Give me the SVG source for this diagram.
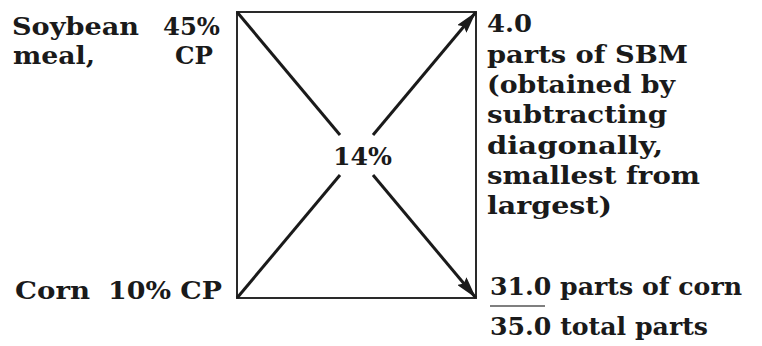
<svg xmlns="http://www.w3.org/2000/svg" width="762" height="346" viewBox="0 0 762 346">
<style>
text{font-family:"DejaVu Serif","Liberation Serif",serif;font-size:25px;font-weight:bold;fill:#1a1a1a}
.ln{stroke:#1a1a1a;stroke-width:3;fill:none}
.box{stroke:#2a2a2a;stroke-width:2;fill:none}
</style>
<defs>
<marker id="ah" viewBox="0 0 22 12" refX="22" refY="6" markerWidth="22" markerHeight="12" markerUnits="userSpaceOnUse" orient="auto">
<path d="M0,0 L22,6 L0,12 L3,6 Z" fill="#1a1a1a"/>
</marker>
</defs>
<rect width="762" height="346" fill="#fff"/>
<g id="square"><rect class="box" x="237" y="12" width="239" height="286"/></g>
<g id="connectors">
<line class="ln" x1="237" y1="12" x2="340" y2="135"/>
<line class="ln" x1="373" y1="175" x2="476" y2="298" marker-end="url(#ah)"/>
<line class="ln" x1="237" y1="298" x2="340" y2="175"/>
<line class="ln" x1="373" y1="135" x2="476" y2="12" marker-end="url(#ah)"/>
</g>
<g id="soybean">
<text x="12" y="35" textLength="127" lengthAdjust="spacingAndGlyphs">Soybean</text>
<text x="163" y="35" textLength="57" lengthAdjust="spacingAndGlyphs">45%</text>
<text x="13" y="64" textLength="82" lengthAdjust="spacingAndGlyphs">meal,</text>
<text x="175" y="64" textLength="38" lengthAdjust="spacingAndGlyphs">CP</text>
</g>
<g id="corn">
<text x="15" y="299" textLength="75" lengthAdjust="spacingAndGlyphs">Corn</text>
<text x="108" y="299" textLength="114" lengthAdjust="spacingAndGlyphs">10% CP</text>
</g>
<g id="center">
<text x="333" y="165" textLength="59" lengthAdjust="spacingAndGlyphs">14%</text>
</g>
<g id="sbm">
<text x="487" y="32" textLength="45" lengthAdjust="spacingAndGlyphs">4.0</text>
<text x="487" y="62.5" textLength="201" lengthAdjust="spacingAndGlyphs">parts of SBM</text>
<text x="487" y="93" textLength="188" lengthAdjust="spacingAndGlyphs">(obtained by</text>
<text x="487" y="123" textLength="180" lengthAdjust="spacingAndGlyphs">subtracting</text>
<text x="487" y="153.5" textLength="176" lengthAdjust="spacingAndGlyphs">diagonally,</text>
<text x="487" y="184" textLength="213" lengthAdjust="spacingAndGlyphs">smallest from</text>
<text x="487" y="214" textLength="125" lengthAdjust="spacingAndGlyphs">largest)</text>
</g>
<g id="totals">
<text x="490" y="295" textLength="252" lengthAdjust="spacingAndGlyphs">31.0 parts of corn</text>
<line x1="490" y1="306" x2="545" y2="306" stroke="#555" stroke-width="1.5"/>
<text x="490" y="335" textLength="218" lengthAdjust="spacingAndGlyphs">35.0 total parts</text>
</g>
</svg>
